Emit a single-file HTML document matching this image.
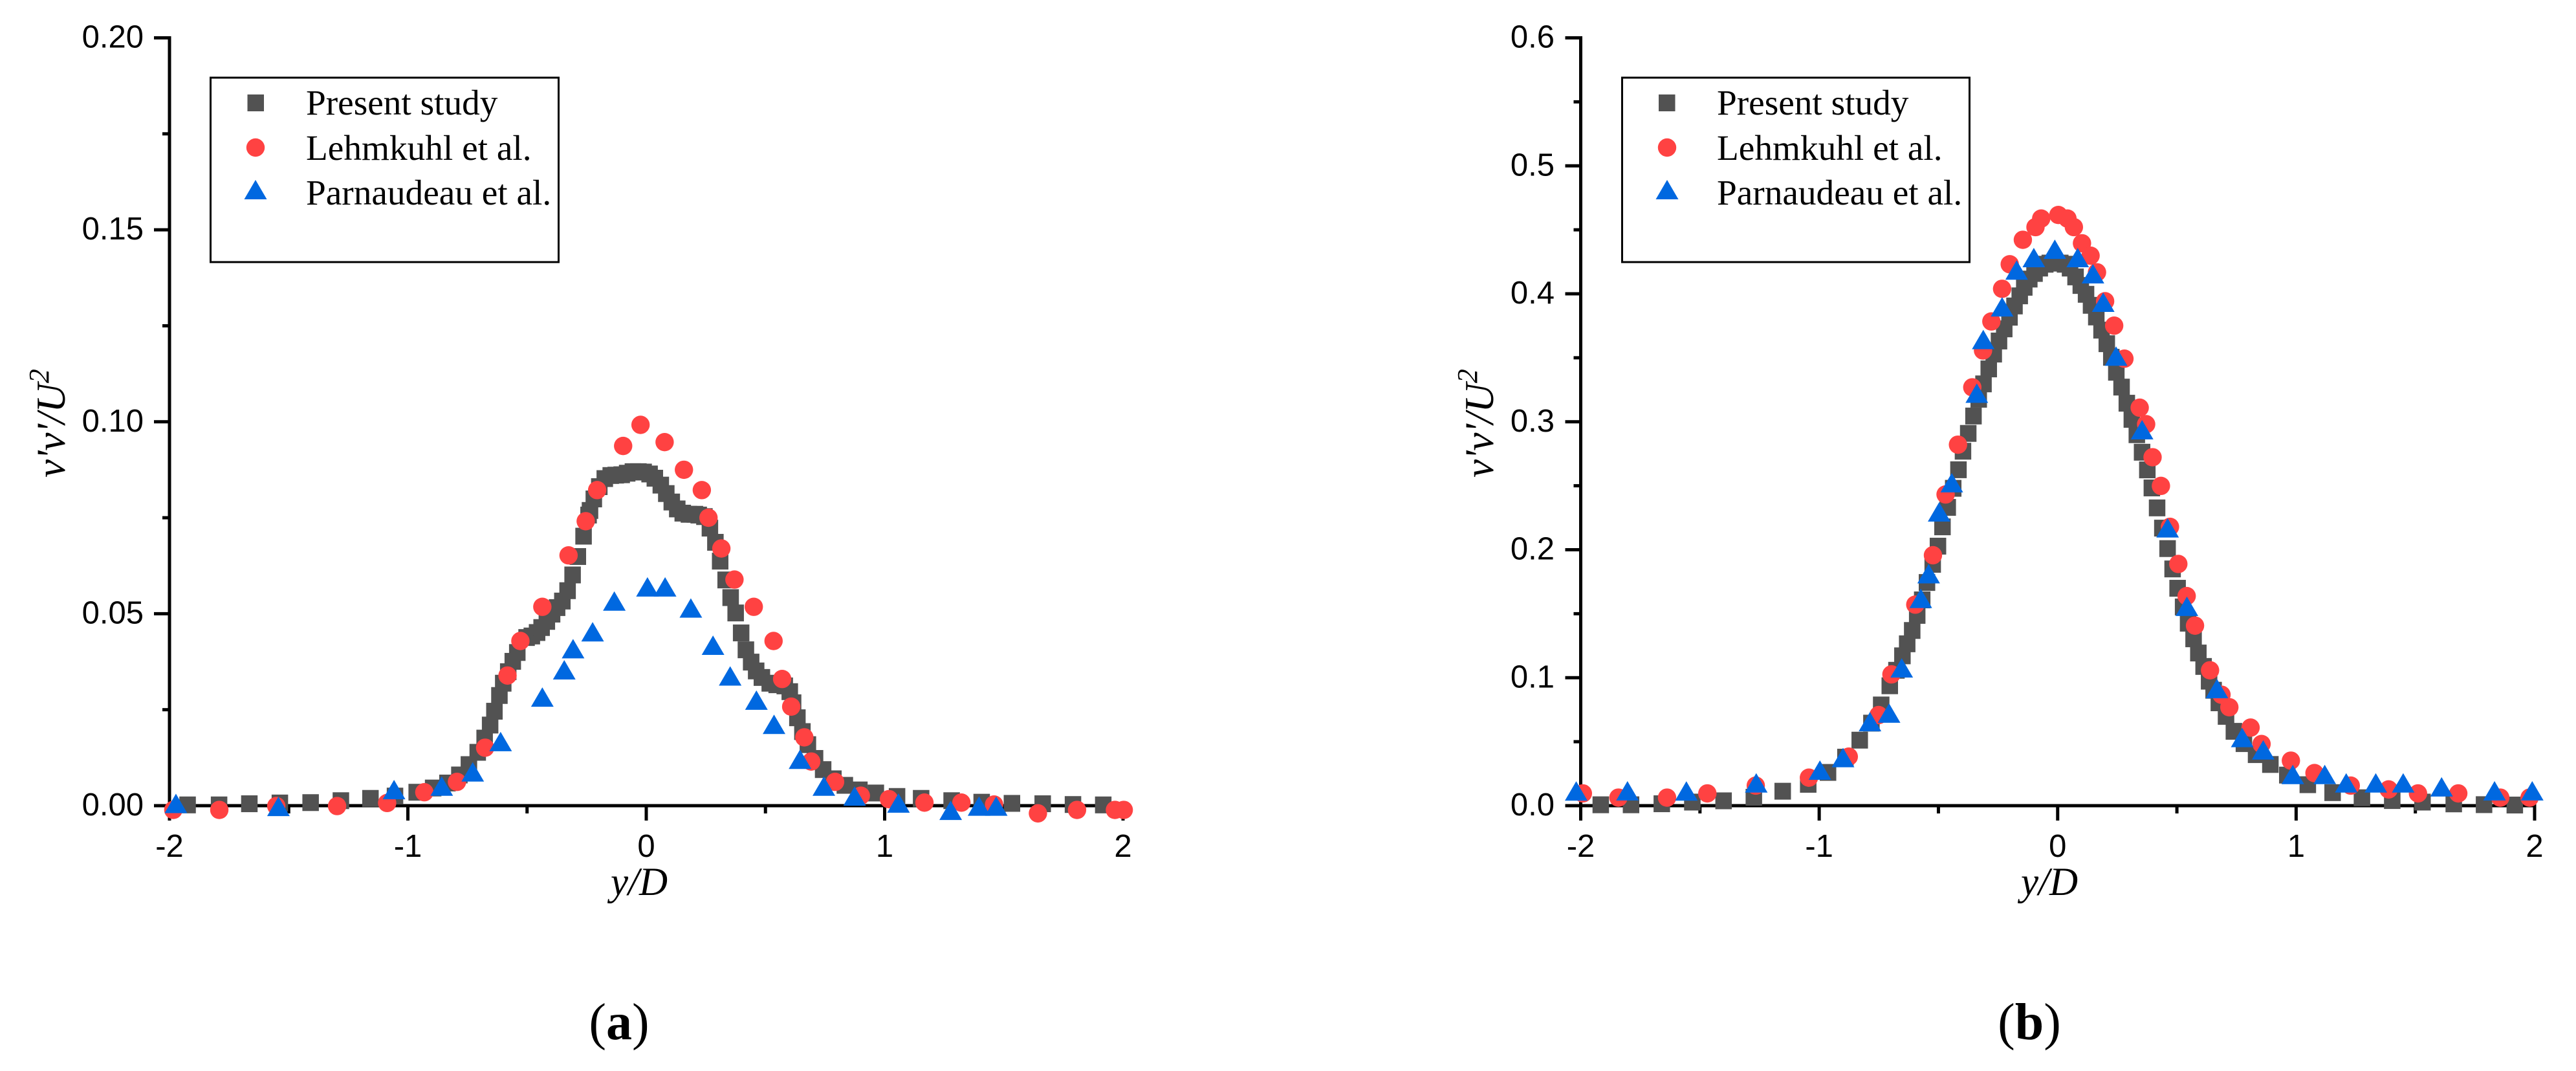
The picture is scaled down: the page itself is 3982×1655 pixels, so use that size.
<!DOCTYPE html>
<html lang="en">
<head>
<meta charset="utf-8">
<title>Reynolds stress profiles v'v'/U^2 versus y/D</title>
<style>
html,body{margin:0;padding:0;background:#fff;}
svg{display:block;}
.tick{font-family:"Liberation Sans",sans-serif;font-size:49px;fill:#000;}
.leg{font-family:"Liberation Serif",serif;font-size:55.3px;fill:#000;}
.axt{font-family:"Liberation Serif",serif;font-style:italic;fill:#000;}
.cap{font-family:"Liberation Serif",serif;font-size:80px;fill:#000;}
</style>
</head>
<body>
<svg id="figure" xmlns="http://www.w3.org/2000/svg" width="3982" height="1655" viewBox="0 0 3982 1655">
  <rect x="0" y="0" width="3982" height="1655" fill="#fff"/>
  <g id="panel-a"></g>
  <g id="panel-b"></g>

  <g>
    <rect x="325.5" y="120" width="538" height="285" fill="#fff" stroke="#000" stroke-width="3"/>
    <rect x="382.5" y="146" width="25.5" height="26" fill="#525252"/>
    <circle cx="395" cy="228" r="14.2" fill="#ff4242"/>
    <polygon points="395,278 412.5,308 377.5,308" fill="#0068e0"/>
    <text class="leg" x="473" y="177">Present study</text>
    <text class="leg" x="473" y="247">Lehmkuhl et al.</text>
    <text class="leg" x="473" y="316">Parnaudeau et al.</text>
  </g>

  <g>
    <rect x="2507.5" y="120" width="537" height="285" fill="#fff" stroke="#000" stroke-width="3"/>
    <rect x="2564" y="146" width="25.5" height="26" fill="#525252"/>
    <circle cx="2577" cy="228" r="14.2" fill="#ff4242"/>
    <polygon points="2577,278 2594.5,308 2559.5,308" fill="#0068e0"/>
    <text class="leg" x="2654" y="177">Present study</text>
    <text class="leg" x="2654" y="247">Lehmkuhl et al.</text>
    <text class="leg" x="2654" y="316">Parnaudeau et al.</text>
  </g>

  <text class="axt" x="988" y="1383" font-size="61" text-anchor="middle">y/D</text>
  <text class="axt" x="3168" y="1383" font-size="61" text-anchor="middle">y/D</text>

  <text class="axt" transform="translate(100 738) rotate(-90)" font-size="63">v'v'/U<tspan font-size="44" dy="-25">2</tspan></text>
  <text class="axt" transform="translate(2308 738) rotate(-90)" font-size="63">v'v'/U<tspan font-size="44" dy="-25">2</tspan></text>

  <text class="cap" x="957" y="1606" text-anchor="middle">(<tspan font-weight="bold">a</tspan>)</text>
  <text class="cap" x="3137" y="1606" text-anchor="middle">(<tspan font-weight="bold">b</tspan>)</text>
</svg>

<script>
var xTickLabels = ['-2','-1','0','1','2'];
var yTickLabelsA = ['0.00','0.05','0.10','0.15','0.20'];
var yTickLabelsB = ['0.0','0.1','0.2','0.3','0.4','0.5','0.6'];

var presentXA = [-1.924,-1.792,-1.665,-1.537,-1.408,-1.281,-1.157,-1.054,-0.963,-0.894,-0.834,-0.784,-0.744,-0.707,-0.678,-0.655,-0.637,-0.616,-0.600,-0.579,-0.560,-0.541,-0.502,-0.480,-0.458,-0.439,-0.417,-0.395,-0.374,-0.352,-0.330,-0.309,-0.287,-0.263,-0.242,-0.236,-0.220,-0.197,-0.174,-0.149,-0.128,-0.103,-0.080,-0.056,-0.033,-0.011,0.014,0.036,0.061,0.084,0.107,0.130,0.153,0.179,0.204,0.220,0.244,0.267,0.290,0.310,0.333,0.354,0.375,0.398,0.418,0.440,0.461,0.485,0.518,0.547,0.581,0.602,0.616,0.634,0.655,0.678,0.708,0.742,0.785,0.833,0.894,0.963,1.052,1.153,1.281,1.407,1.534,1.663,1.790,1.917];
var presentYA = [0.0002,0.0002,0.0005,0.0007,0.0008,0.0013,0.0019,0.0025,0.0035,0.0046,0.0059,0.0080,0.0107,0.0139,0.0176,0.0210,0.0246,0.0287,0.0319,0.0349,0.0376,0.0399,0.0438,0.0442,0.0451,0.0464,0.0480,0.0499,0.0516,0.0533,0.0560,0.0601,0.0649,0.0702,0.0757,0.0769,0.0799,0.0831,0.0852,0.0860,0.0861,0.0862,0.0866,0.0870,0.0870,0.0869,0.0864,0.0853,0.0835,0.0813,0.0791,0.0773,0.0762,0.0759,0.0759,0.0757,0.0753,0.0723,0.0686,0.0637,0.0588,0.0542,0.0502,0.0450,0.0406,0.0374,0.0351,0.0334,0.0319,0.0315,0.0312,0.0297,0.0268,0.0229,0.0193,0.0159,0.0123,0.0094,0.0070,0.0053,0.0041,0.0033,0.0024,0.0019,0.0013,0.0009,0.0006,0.0005,0.0003,0.0002];
var lehmkuhlXA = [-1.984,-1.791,-1.552,-1.297,-1.087,-0.931,-0.794,-0.676,-0.582,-0.528,-0.436,-0.326,-0.254,-0.206,-0.097,-0.024,0.077,0.158,0.233,0.261,0.315,0.370,0.451,0.534,0.570,0.608,0.663,0.692,0.792,0.900,1.018,1.167,1.322,1.459,1.643,1.807,1.966,2.003];
var lehmkuhlYA = [-0.0011,-0.0011,-0.0001,-0.0001,0.0007,0.0035,0.0062,0.0151,0.0339,0.0429,0.0518,0.0652,0.0741,0.0822,0.0937,0.0992,0.0947,0.0875,0.0822,0.0750,0.0670,0.0589,0.0518,0.0429,0.0330,0.0258,0.0178,0.0115,0.0062,0.0026,0.0017,0.0008,0.0008,0.0003,-0.0020,-0.0011,-0.0011,-0.0011];
var parnaudeauXA = [-1.973,-1.543,-1.058,-0.858,-0.728,-0.611,-0.436,-0.344,-0.307,-0.225,-0.134,0.005,0.079,0.187,0.280,0.352,0.462,0.536,0.645,0.745,0.874,1.058,1.277,1.396,1.468];
var parnaudeauYA = [0.0006,-0.0002,0.0042,0.0051,0.0088,0.0167,0.0283,0.0354,0.0409,0.0453,0.0533,0.0570,0.0570,0.0515,0.0418,0.0338,0.0275,0.0212,0.0121,0.0051,0.0025,0.0007,-0.0012,-0.0001,-0.0001];

var presentXB = [-1.916,-1.789,-1.660,-1.532,-1.401,-1.274,-1.153,-1.046,-0.963,-0.890,-0.830,-0.781,-0.740,-0.704,-0.676,-0.651,-0.631,-0.610,-0.589,-0.568,-0.548,-0.524,-0.502,-0.483,-0.461,-0.438,-0.416,-0.397,-0.375,-0.353,-0.331,-0.311,-0.289,-0.268,-0.246,-0.224,-0.202,-0.181,-0.159,-0.140,-0.119,-0.097,-0.075,-0.052,-0.033,-0.011,0.011,0.031,0.052,0.075,0.097,0.119,0.140,0.162,0.184,0.206,0.225,0.246,0.268,0.290,0.311,0.332,0.354,0.376,0.395,0.417,0.439,0.461,0.482,0.503,0.526,0.547,0.570,0.590,0.612,0.635,0.654,0.676,0.706,0.739,0.781,0.832,0.892,0.963,1.049,1.153,1.276,1.403,1.530,1.661,1.788,1.917];
var presentYB = [0.0007,0.0007,0.0015,0.0028,0.0038,0.0066,0.0113,0.0167,0.0260,0.0379,0.0512,0.0645,0.0787,0.0937,0.1058,0.1171,0.1265,0.1369,0.1487,0.1608,0.1744,0.1886,0.2028,0.2179,0.2331,0.2480,0.2625,0.2770,0.2909,0.3045,0.3176,0.3296,0.3413,0.3529,0.3631,0.3726,0.3817,0.3905,0.3984,0.4051,0.4115,0.4159,0.4201,0.4231,0.4240,0.4240,0.4240,0.4231,0.4201,0.4132,0.4065,0.3996,0.3910,0.3819,0.3716,0.3610,0.3504,0.3387,0.3271,0.3145,0.3019,0.2899,0.2762,0.2624,0.2483,0.2327,0.2169,0.2009,0.1850,0.1699,0.1553,0.1426,0.1304,0.1193,0.1088,0.0973,0.0902,0.0804,0.0698,0.0581,0.0485,0.0399,0.0322,0.0239,0.0164,0.0102,0.0062,0.0040,0.0028,0.0014,0.0008,0.0005];
var lehmkuhlXB = [-1.991,-1.842,-1.638,-1.469,-1.266,-1.043,-0.876,-0.751,-0.697,-0.597,-0.523,-0.470,-0.418,-0.358,-0.313,-0.278,-0.233,-0.201,-0.146,-0.093,-0.069,0.003,0.041,0.068,0.102,0.138,0.165,0.199,0.237,0.280,0.344,0.371,0.398,0.433,0.471,0.506,0.541,0.576,0.639,0.687,0.720,0.809,0.855,0.978,1.077,1.229,1.388,1.511,1.680,1.856,1.979];
var lehmkuhlYB = [0.0096,0.0063,0.0063,0.0096,0.0157,0.0219,0.0383,0.0708,0.1026,0.1571,0.1957,0.2432,0.2821,0.3269,0.3557,0.3784,0.4039,0.4231,0.4422,0.4521,0.4588,0.4616,0.4588,0.4521,0.4395,0.4298,0.4168,0.3942,0.3751,0.3493,0.3110,0.2981,0.2723,0.2499,0.2179,0.1889,0.1638,0.1407,0.1058,0.0867,0.0769,0.0610,0.0482,0.0352,0.0255,0.0157,0.0127,0.0096,0.0096,0.0063,0.0063];
var parnaudeauXB = [-2.019,-1.804,-1.557,-1.264,-0.997,-0.900,-0.787,-0.707,-0.654,-0.574,-0.541,-0.497,-0.444,-0.339,-0.312,-0.233,-0.172,-0.100,-0.012,0.084,0.148,0.191,0.245,0.354,0.461,0.542,0.668,0.774,0.862,0.986,1.120,1.210,1.334,1.449,1.610,1.832,1.990];
var parnaudeauYB = [0.0115,0.0116,0.0115,0.0178,0.0278,0.0376,0.0657,0.0724,0.1077,0.1620,0.1813,0.2296,0.2524,0.3224,0.3643,0.3898,0.4186,0.4283,0.4348,0.4283,0.4157,0.3934,0.3513,0.2938,0.2171,0.1558,0.0915,0.0533,0.0436,0.0244,0.0244,0.0178,0.0178,0.0178,0.0147,0.0116,0.0116];

var SVGNS = 'http://www.w3.org/2000/svg';

function make(parent, tag, attrs) {
  var el = document.createElementNS(SVGNS, tag);
  for (var k in attrs) { el.setAttribute(k, attrs[k]); }
  parent.appendChild(el);
  return el;
}

function drawAxisLine(g, x1, y1, x2, y2, w, label) {
  var el = make(g, 'line', {x1: x1, y1: y1, x2: x2, y2: y2, stroke: '#000', 'stroke-width': w});
  
  
}

function drawPanel(cfg) {
  var g = document.getElementById(cfg.id);
  var sx = function (v) { return cfg.x0 + (v + 2) * (cfg.x1 - cfg.x0) / 4; };
  var sy = function (v) { return cfg.y0 - v * (cfg.y0 - cfg.y1) / cfg.yMax; };

  drawAxisLine(g, sx(-2), sy(cfg.yMax) - 2.5, sx(-2), 1268, 5, 'y-axis-line');
  drawAxisLine(g, sx(-2) - 24, sy(0), sx(2) + 2.5, sy(0), 5, 'x-axis-line');

  xTickLabels.forEach(function (t, i) {
    var v = parseFloat(t);
    drawAxisLine(g, sx(v), sy(0), sx(v), 1268, 5, 'x-major-tick');
    var lab = make(g, 'text', {x: sx(v), y: 1324, 'text-anchor': 'middle', 'class': 'tick'});
    
    
    lab.textContent = t;
    if (i < xTickLabels.length - 1) {
      drawAxisLine(g, sx(v + 0.5), sy(0), sx(v + 0.5), 1257, 5, 'x-minor-tick');
    }
  });

  cfg.yLabels.forEach(function (t, i) {
    var v = parseFloat(t);
    drawAxisLine(g, sx(-2) - 24, sy(v), sx(-2), sy(v), 5, 'y-major-tick');
    var lab = make(g, 'text', {x: cfg.labelRight, y: sy(v) + 15, 'text-anchor': 'end', 'class': 'tick'});
    
    
    lab.textContent = t;
    if (i < cfg.yLabels.length - 1) {
      var mid = (v + parseFloat(cfg.yLabels[i + 1])) / 2;
      drawAxisLine(g, sx(-2) - 11, sy(mid), sx(-2), sy(mid), 5, 'y-minor-tick');
    }
  });

  cfg.px.forEach(function (x, i) {
    var el = make(g, 'rect', {x: sx(x) - 12.75, y: sy(cfg.py[i]) - 13, width: 25.5, height: 26, fill: '#525252'});
    
    
  });
  cfg.lx.forEach(function (x, i) {
    var el = make(g, 'circle', {cx: sx(x), cy: sy(cfg.ly[i]), r: 14.2, fill: '#ff4242'});
    
    
  });
  cfg.tx.forEach(function (x, i) {
    var cx = sx(x), cy = sy(cfg.ty[i]);
    var pts = cx + ',' + (cy - 15) + ' ' + (cx + 17.5) + ',' + (cy + 15) + ' ' + (cx - 17.5) + ',' + (cy + 15);
    var el = make(g, 'polygon', {points: pts, fill: '#0068e0'});
    
    
  });
}

drawPanel({id: 'panel-a', x0: 262, x1: 1736, y0: 1245, y1: 58.5, yMax: 0.2, labelRight: 222,
  yLabels: yTickLabelsA, px: presentXA, py: presentYA, lx: lehmkuhlXA, ly: lehmkuhlYA, tx: parnaudeauXA, ty: parnaudeauYA});
drawPanel({id: 'panel-b', x0: 2443.5, x1: 3918, y0: 1245, y1: 58.5, yMax: 0.6, labelRight: 2403,
  yLabels: yTickLabelsB, px: presentXB, py: presentYB, lx: lehmkuhlXB, ly: lehmkuhlYB, tx: parnaudeauXB, ty: parnaudeauYB});
</script>
</body>
</html>
